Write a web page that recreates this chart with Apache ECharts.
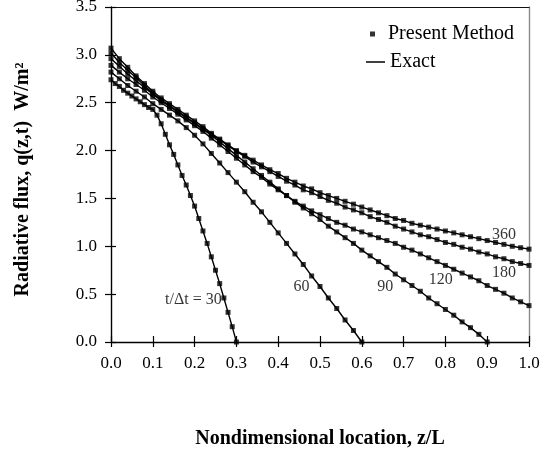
<!DOCTYPE html>
<html>
<head>
<meta charset="utf-8">
<script src="https://cdn.jsdelivr.net/npm/echarts@6/dist/echarts.min.js"></script>
<style>
  html, body { margin: 0; padding: 0; background: #fff; }
  #chart { width: 540px; height: 456px; }
</style>
</head>
<body>
<div id="chart"></div>
<script>
// z/L positions (fine grid only for t/dt = 30)
var zFine = [0.00, 0.01, 0.02, 0.03, 0.04, 0.05, 0.06, 0.07, 0.08, 0.09, 0.10,
  0.11, 0.12, 0.13, 0.14, 0.15, 0.16, 0.17, 0.18, 0.19, 0.20,
  0.21, 0.22, 0.23, 0.24, 0.25, 0.26, 0.27, 0.28, 0.29, 0.30];
var zGrid = [0.00, 0.02, 0.04, 0.06, 0.08, 0.10, 0.12, 0.14, 0.16, 0.18, 0.20,
  0.22, 0.24, 0.26, 0.28, 0.30, 0.32, 0.34, 0.36, 0.38, 0.40,
  0.42, 0.44, 0.46, 0.48, 0.50, 0.52, 0.54, 0.56, 0.58, 0.60,
  0.62, 0.64, 0.66, 0.68, 0.70, 0.72, 0.74, 0.76, 0.78, 0.80,
  0.82, 0.84, 0.86, 0.88, 0.90, 0.92, 0.94, 0.96, 0.98, 1.00];

// radiative flux q(z,t)
var flux30 = [2.74, 2.70, 2.67, 2.63, 2.60, 2.57, 2.54, 2.51, 2.48, 2.45, 2.43,
  2.37, 2.28, 2.17, 2.06, 1.96, 1.85, 1.74, 1.64, 1.53, 1.42,
  1.29, 1.16, 1.03, 0.89, 0.75, 0.61, 0.46, 0.31, 0.16, 0.00];
var flux60 = [2.82, 2.75, 2.68, 2.62, 2.56, 2.49, 2.43, 2.37, 2.31, 2.24, 2.16,
  2.07, 1.97, 1.87, 1.77, 1.67, 1.57, 1.46, 1.36, 1.25, 1.14,
  1.03, 0.92, 0.81, 0.69, 0.58, 0.46, 0.35, 0.23, 0.12, 0.00];
var flux90 = [2.89, 2.82, 2.75, 2.69, 2.63, 2.56, 2.50, 2.44, 2.38, 2.32, 2.26,
  2.20, 2.13, 2.06, 1.99, 1.92, 1.85, 1.78, 1.72, 1.65, 1.59,
  1.53, 1.46, 1.40, 1.34, 1.28, 1.21, 1.15, 1.09, 1.03, 0.96,
  0.90, 0.84, 0.78, 0.71, 0.65, 0.59, 0.53, 0.46, 0.40, 0.34,
  0.28, 0.21, 0.15, 0.08, 0.00];
var flux120 = [2.96, 2.88, 2.80, 2.73, 2.66, 2.59, 2.52, 2.46, 2.40, 2.34, 2.28,
  2.22, 2.16, 2.09, 2.02, 1.95, 1.88, 1.81, 1.74, 1.67, 1.60,
  1.53, 1.47, 1.42, 1.37, 1.33, 1.29, 1.25, 1.22, 1.18, 1.15,
  1.12, 1.09, 1.06, 1.03, 0.99, 0.96, 0.92, 0.88, 0.84, 0.80,
  0.76, 0.72, 0.68, 0.64, 0.59, 0.55, 0.51, 0.46, 0.42, 0.38];
var flux180 = [3.02, 2.92, 2.84, 2.76, 2.68, 2.60, 2.53, 2.47, 2.41, 2.35, 2.29,
  2.23, 2.17, 2.11, 2.05, 1.99, 1.94, 1.88, 1.83, 1.78, 1.73,
  1.68, 1.64, 1.59, 1.56, 1.52, 1.48, 1.45, 1.41, 1.38, 1.35,
  1.31, 1.28, 1.25, 1.21, 1.18, 1.15, 1.12, 1.10, 1.07, 1.04,
  1.02, 0.99, 0.97, 0.94, 0.92, 0.89, 0.87, 0.84, 0.82, 0.80];
var flux360 = [3.07, 2.96, 2.87, 2.78, 2.70, 2.62, 2.55, 2.49, 2.43, 2.37, 2.31,
  2.25, 2.18, 2.12, 2.06, 2.00, 1.95, 1.90, 1.85, 1.80, 1.76,
  1.71, 1.67, 1.63, 1.60, 1.56, 1.53, 1.50, 1.47, 1.44, 1.41,
  1.38, 1.35, 1.32, 1.29, 1.27, 1.24, 1.22, 1.20, 1.18, 1.16,
  1.14, 1.12, 1.10, 1.08, 1.06, 1.04, 1.02, 1.00, 0.985, 0.97];

// curve labels (t/dt) and where they sit, in data units
var labelText = ['t/\u0394t = 30', '60', '90', '120', '180', '360'];
var labelZ = [0.197, 0.456, 0.656, 0.789, 0.940, 0.940];
var labelQ = [0.44, 0.578, 0.578, 0.648, 0.718, 1.125];

var FONT = 'Liberation Serif';

function pairs(zs, qs) {
  return qs.map(function (q, i) { return [zs[i], q]; });
}

var curves = [
  pairs(zFine, flux30),
  pairs(zGrid, flux60),
  pairs(zGrid, flux90),
  pairs(zGrid, flux120),
  pairs(zGrid, flux180),
  pairs(zGrid, flux360)
];

var series = [];
curves.forEach(function (d) {
  series.push({
    name: 'Exact',
    type: 'line',
    data: d,
    showSymbol: false,
    silent: true,
    lineStyle: { color: '#000', width: 1.4 },
    itemStyle: { color: '#000' },
    z: 2
  });
});
curves.forEach(function (d) {
  series.push({
    name: 'Present Method',
    type: 'scatter',
    data: d,
    symbol: 'rect',
    symbolSize: 5,
    itemStyle: { color: '#000' },
    z: 3
  });
});
series.push({
  type: 'scatter',
  data: labelText.map(function (t, i) { return [labelZ[i], labelQ[i], t]; }),
  symbolSize: 0,
  silent: true,
  label: {
    show: true,
    position: 'inside',
    formatter: function (p) { return p.value[2]; },
    fontFamily: FONT,
    fontSize: 16,
    color: '#000'
  },
  z: 4
});

var fmt1 = function (v) { return v.toFixed(1); };
var tickStyle = { color: '#000', width: 1.2 };

var option = {
  backgroundColor: '#fff',
  animation: false,
  grid: { left: 111, right: 11, top: 7, bottom: 114, containLabel: false, outerBoundsMode: 'none' },
  legend: [
    {
      data: [{ name: 'Present Method', icon: 'rect' }],
      left: 365, top: 19,
      itemWidth: 5, itemHeight: 5,
      textStyle: { fontFamily: FONT, fontSize: 20, color: '#000', padding: [0, 0, 0, 8] }
    },
    {
      data: [{ name: 'Exact', icon: 'rect' }],
      left: 361, top: 47,
      itemWidth: 19, itemHeight: 1.5,
      textStyle: { fontFamily: FONT, fontSize: 20, color: '#000' }
    }
  ],
  xAxis: [
    {
      type: 'value', min: 0, max: 1, interval: 0.1, position: 'bottom',
      name: 'Nondimensional location, z/L',
      nameLocation: 'middle', nameGap: 87,
      nameTextStyle: { fontFamily: FONT, fontSize: 20, fontWeight: 'bold', color: '#000' },
      axisLine: { onZero: false, lineStyle: { color: '#000', width: 1.4 } },
      axisTick: { inside: false, length: 5, lineStyle: tickStyle },
      axisLabel: { formatter: fmt1, margin: 13, fontFamily: FONT, fontSize: 17, color: '#000' },
      splitLine: { show: false }
    },
    {
      type: 'value', min: 0, max: 1, interval: 0.1, position: 'bottom',
      axisLine: { show: false, onZero: false },
      axisTick: { inside: true, length: 6, lineStyle: tickStyle },
      axisLabel: { show: false },
      splitLine: { show: false }
    },
    {
      type: 'value', min: 0, max: 1, position: 'top',
      axisLine: { onZero: false, lineStyle: { color: '#111', width: 1.2 } },
      axisTick: { show: false },
      axisLabel: { show: false },
      splitLine: { show: false }
    }
  ],
  yAxis: [
    {
      type: 'value', min: 0, max: 3.5, interval: 0.5, position: 'left',
      name: 'Radiative flux, q(z,t)  W/m\u00B2',
      nameLocation: 'middle', nameGap: 78,
      nameTextStyle: { fontFamily: FONT, fontSize: 20, fontWeight: 'bold', color: '#000', padding: [0, 10, 0, 0] },
      axisLine: { onZero: false, lineStyle: { color: '#000', width: 1.4 } },
      axisTick: { inside: false, length: 6, lineStyle: tickStyle },
      axisLabel: { formatter: fmt1, margin: 14, fontFamily: FONT, fontSize: 17, color: '#000' },
      splitLine: { show: false }
    },
    {
      type: 'value', min: 0, max: 3.5, interval: 0.5, position: 'left',
      axisLine: { show: false, onZero: false },
      axisTick: { inside: true, length: 5, lineStyle: tickStyle },
      axisLabel: { show: false },
      splitLine: { show: false }
    },
    {
      type: 'value', min: 0, max: 3.5, position: 'right',
      axisLine: { onZero: false, lineStyle: { color: '#8a8a8a', width: 1.4 } },
      axisTick: { show: false },
      axisLabel: { show: false },
      splitLine: { show: false }
    }
  ],
  series: series
};

var myChart = echarts.init(document.getElementById('chart'), null, { renderer: 'canvas' });
myChart.setOption(option);
</script>
</body>
</html>
